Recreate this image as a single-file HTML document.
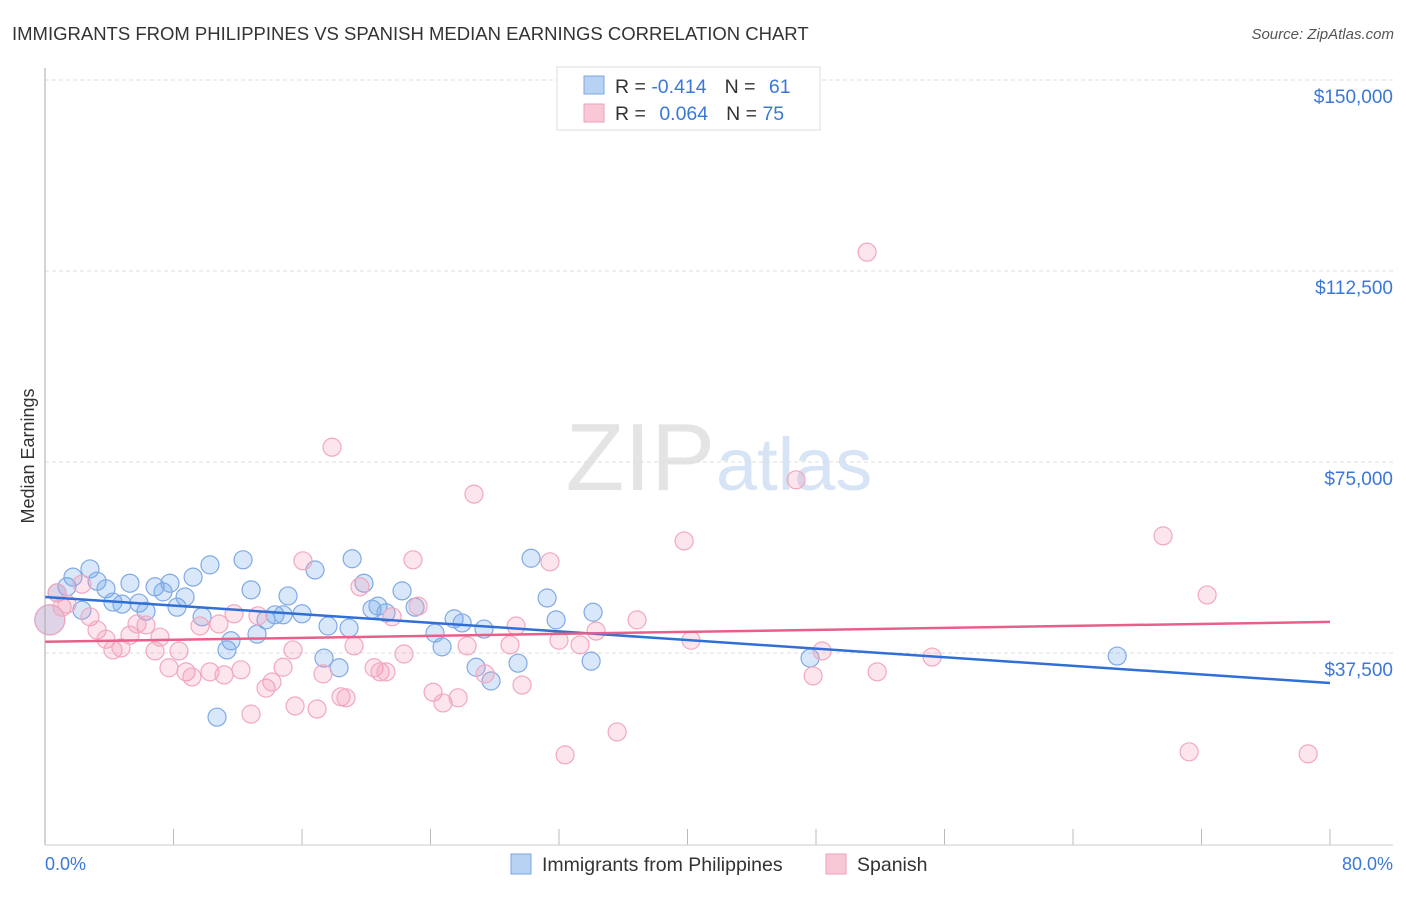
<!DOCTYPE html>
<html><head><meta charset="utf-8"><style>
body{margin:0;background:#fff;font-family:"Liberation Sans",sans-serif}
svg text{font-family:"Liberation Sans",sans-serif}
</style></head><body>
<svg id="c" width="1406" height="892">
<text x="12" y="40" font-size="18.5" fill="#333">IMMIGRANTS FROM PHILIPPINES VS SPANISH MEDIAN EARNINGS CORRELATION CHART</text>
<text x="1394" y="39" font-size="15" fill="#555" font-style="italic" text-anchor="end">Source: ZipAtlas.com</text>
<text x="715" y="490" font-size="96" fill="#e4e4e4" text-anchor="end" font-family="Liberation Serif">ZIP</text>
<text x="716" y="490" font-size="74" fill="#d6e4f6">atlas</text>
<text x="34" y="456" font-size="18" fill="#333" transform="rotate(-90 34 456)" text-anchor="middle">Median Earnings</text>
<g id="grid"></g><g id="pts"></g><g id="lines"></g>
<line x1="45" y1="68" x2="45" y2="845" stroke="#aaa"/>
<line x1="45" y1="845" x2="1393" y2="845" stroke="#ccc"/>
<text x="45" y="870" font-size="18" fill="#3a78d8">0.0%</text>
<text x="1393" y="870" font-size="18" fill="#3a78d8" text-anchor="end">80.0%</text>
<g>
<rect x="557" y="67" width="263" height="63" fill="#fff" stroke="#ddd"/>
<rect x="584" y="76" width="20" height="18" fill="#b8d2f4" stroke="#7aa6e0"/>
<rect x="584" y="104" width="20" height="18" fill="#f8c8d6" stroke="#f0a0b8"/>
<text x="615" y="93" font-size="19.5" fill="#333">R = <tspan fill="#3a78d8">-0.414</tspan><tspan dx="18">N = </tspan><tspan fill="#3a78d8" dx="8">61</tspan></text>
<text x="615" y="120" font-size="19.5" fill="#333">R = <tspan fill="#3a78d8" dx="8">0.064</tspan><tspan dx="18">N = </tspan><tspan fill="#3a78d8">75</tspan></text>
</g>
<g>
<rect x="511" y="854" width="20" height="20" fill="#b8d2f4" stroke="#7aa6e0"/>
<text x="542" y="871" font-size="19.5" fill="#333">Immigrants from Philippines</text>
<rect x="826" y="854" width="20" height="20" fill="#f8c8d6" stroke="#f0a0b8"/>
<text x="857" y="871" font-size="19.5" fill="#333">Spanish</text>
</g>
</svg>
<script>
const yTicks=[150000,112500,75000,37500];
const yTickLabels=["$150,000","$112,500","$75,000","$37,500"];
const xTicks=[0,8,16,24,32,40,48,56,64,72,80];
const blueX=[0.3,0.75,1.37,1.74,2.3,2.8,3.24,3.8,4.23,4.79,5.29,5.85,6.29,6.85,7.35,7.78,8.22,8.72,9.22,9.78,10.27,10.71,11.58,11.33,12.33,12.83,13.2,13.76,14.32,14.82,15.13,16.0,16.81,17.37,17.62,18.31,18.93,19.12,19.86,20.36,20.73,21.23,22.23,23.04,24.28,24.72,25.47,25.97,26.84,27.33,27.77,29.45,30.26,31.26,31.82,34.0,34.12,47.63,66.75];
const blueY=[44.0,49.3,50.5,52.4,45.9,54.0,51.6,50.1,47.5,47.1,51.2,47.3,45.7,50.5,49.5,51.2,46.5,48.5,52.4,44.6,54.8,24.9,39.9,38.1,55.8,49.9,41.2,44.0,45.0,45.0,48.7,45.2,53.8,36.5,42.8,34.6,42.4,56.0,51.2,46.1,46.7,45.4,49.7,46.5,41.4,38.7,44.2,43.4,34.7,42.2,32.0,35.5,56.1,48.3,44.0,35.9,45.5,36.5,36.9];
const pinkX=[0.3,0.75,1.06,1.37,2.3,2.8,3.24,3.8,4.23,4.73,5.29,5.73,6.29,6.85,7.16,7.72,8.34,8.78,9.15,9.65,10.27,10.83,11.15,11.77,12.2,12.83,13.26,13.76,14.13,14.82,15.44,15.57,16.06,16.94,17.31,17.87,18.43,18.74,19.24,19.61,20.49,20.86,21.23,21.61,22.35,22.91,23.23,24.16,24.78,25.72,26.28,26.71,27.4,28.95,29.33,29.7,31.44,32.0,32.38,33.31,34.31,35.62,36.86,39.79,40.22,46.76,47.82,48.38,51.18,51.81,55.23,69.61,71.23,72.35,78.64];
const pinkY=[44.0,49.3,46.5,47.1,51.0,44.6,42.0,40.2,38.1,38.5,41.0,43.2,43.0,37.9,40.6,34.6,37.9,33.8,32.8,42.8,33.8,43.2,33.2,45.2,34.2,25.5,44.8,30.6,31.8,34.7,38.1,27.1,55.6,26.5,33.4,77.9,28.9,28.7,38.9,50.5,34.6,33.8,33.8,44.6,37.3,55.8,46.7,29.8,27.7,28.7,38.9,68.7,33.4,39.1,42.8,31.2,55.4,40.0,17.5,39.1,41.8,22.0,44.0,59.5,40.0,71.5,33.0,37.9,116.2,33.8,36.7,60.5,18.1,48.9,17.7];
const blueTrend=[48.5,31.6];
const pinkTrend=[39.7,43.6];
const NS="http://www.w3.org/2000/svg";
function xs(p){return 45+p*1285/80;}
function ys(v){return 80+(150000-v)*191/37500;}
function mk(t,a,parent){const e=document.createElementNS(NS,t);for(const k in a)e.setAttribute(k,a[k]);parent.appendChild(e);return e;}
const grid=document.getElementById('grid');
yTicks.forEach((v,i)=>{
 const l=mk('line',{x1:45,x2:1393,y1:ys(v),y2:ys(v),stroke:'#ddd','stroke-dasharray':'4,3'},grid);
 
 
 const t=mk('text',{x:1393,y:ys(v)+23,'font-size':19,fill:'#3a78d8','text-anchor':'end'},grid);
 t.textContent=yTickLabels[i];
 
 
});
xTicks.forEach(p=>{
 const l=mk('line',{x1:xs(p),x2:xs(p),y1:829,y2:845,stroke:'#bbb'},grid);
 
 
});
const pts=document.getElementById('pts');
function drawPts(X,Y,fill,stroke,name){
 X.forEach((p,i)=>{
  const big=(i===0);
  const c=mk('circle',{cx:xs(p),cy:ys(Y[i]*1000),r:big?15:9,fill:fill,stroke:stroke,'stroke-width':1.2},pts);
  
  
 });
}
drawPts(blueX,blueY,'rgba(110,165,235,0.27)','#80aae4','philippines-point');
drawPts(pinkX,pinkY,'rgba(245,150,180,0.25)','#f2a8bf','spanish-point');
const lines=document.getElementById('lines');
const bl=mk('line',{x1:xs(0),y1:ys(blueTrend[0]*1000),x2:xs(80),y2:ys(blueTrend[1]*1000),stroke:'#2f6fd6','stroke-width':2.5},lines);


const pl=mk('line',{x1:xs(0),y1:ys(pinkTrend[0]*1000),x2:xs(80),y2:ys(pinkTrend[1]*1000),stroke:'#e8608a','stroke-width':2.5},lines);


</script>
</body></html>
